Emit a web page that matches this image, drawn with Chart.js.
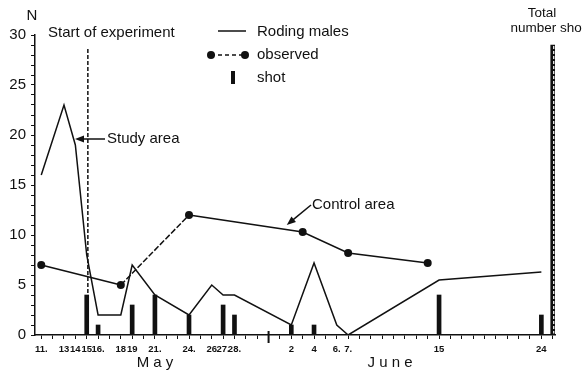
<!DOCTYPE html>
<html>
<head>
<meta charset="utf-8">
<script src="https://cdn.jsdelivr.net/npm/chart.js@4.4.0/dist/chart.umd.min.js"></script>
<style>
  html, body { margin: 0; padding: 0; background: #fff; }
</style>
</head>
<body>
<canvas id="roding" width="582" height="370"></canvas>
<script>
// Days are counted from 11 May (day 0) to 25 June (day 45)
const studyDays = [0, 2, 3, 4, 5, 7, 8, 10, 13, 15, 16, 17, 22, 24, 26, 27, 35, 44];
const studyMales = [16, 23, 19, 8, 2, 2, 7, 4, 2, 5, 4, 4, 1, 7.2, 1, 0, 5.5, 6.3];

const controlDays = [0, 7, 13, 23, 27, 34];
const controlMales = [7, 5, 12, 10.3, 8.2, 7.2];

const shotDays = [4, 5, 8, 10, 13, 16, 17, 22, 24, 35, 44];
const shotCount = [4, 1, 3, 4, 2, 3, 2, 1, 1, 4, 2];

const totalShotDay = [45];
const totalShot = [29];

const startDay = [4.1];
const startLineTop = [28.7];

const dayLabels = {
    0: '11.', 2: '13', 3: '14', 4: '15', 5: '16.', 7: '18', 8: '19', 10: '21.',
    13: '24.', 15: '26', 16: '27.', 17: '28.', 22: '2', 24: '4', 26: '6.', 27: '7.',
    35: '15', 44: '24'
};
const monthEndDay = 20;

const INK = '#111';
const FONT = "'Liberation Sans', Arial, sans-serif";

const pts = (xs, ys) => xs.map((x, i) => ({ x: x, y: ys[i] }));

function arrow(ctx, x0, y0, x1, y1) {
    const a = Math.atan2(y1 - y0, x1 - x0);
    const len = 9, half = 3.5;
    ctx.beginPath();
    ctx.moveTo(x0, y0);
    ctx.lineTo(x1 - Math.cos(a) * len * 0.8, y1 - Math.sin(a) * len * 0.8);
    ctx.stroke();
    ctx.beginPath();
    ctx.moveTo(x1, y1);
    ctx.lineTo(x1 - Math.cos(a) * len + Math.sin(a) * half, y1 - Math.sin(a) * len - Math.cos(a) * half);
    ctx.lineTo(x1 - Math.cos(a) * len - Math.sin(a) * half, y1 - Math.sin(a) * len + Math.cos(a) * half);
    ctx.closePath();
    ctx.fill();
}

// Text, legend, arrows and the extra marks on the axis
const annotations = {
    id: 'annotations',
    afterDraw(chart) {
        const ctx = chart.ctx;
        const xs = chart.scales.x, ys = chart.scales.y;
        ctx.save();
        ctx.fillStyle = INK;
        ctx.strokeStyle = INK;
        ctx.lineWidth = 1.5;
        ctx.textBaseline = 'middle';
        ctx.font = '15px ' + FONT;

        ctx.textAlign = 'center';
        ctx.fillText('N', 32, 16);

        ctx.textAlign = 'left';
        ctx.fillText('Start of experiment', 48, 33);

        // legend
        ctx.beginPath();
        ctx.moveTo(218, 31);
        ctx.lineTo(246, 31);
        ctx.stroke();
        ctx.fillText('Roding males', 257, 32);

        ctx.setLineDash([4, 3]);
        ctx.beginPath();
        ctx.moveTo(211, 55);
        ctx.lineTo(245, 55);
        ctx.stroke();
        ctx.setLineDash([]);
        [211, 245].forEach(cx => {
            ctx.beginPath();
            ctx.arc(cx, 55, 4, 0, Math.PI * 2);
            ctx.fill();
        });
        ctx.fillText('observed', 257, 55);

        ctx.fillRect(231, 71, 4, 13);
        ctx.fillText('shot', 257, 78);

        // area labels with arrows pointing at the lines
        ctx.fillText('Study area', 107, 139);
        arrow(ctx, 105, 139, xs.getPixelForValue(2.97), ys.getPixelForValue(19.6));
        ctx.fillText('Control area', 312, 205);
        arrow(ctx, 311, 205, xs.getPixelForValue(21.6), ys.getPixelForValue(11));

        // months
        ctx.textAlign = 'center';
        ctx.fillText('M a y', 155, 363);
        ctx.fillText('J u n e', 390, 363);

        ctx.font = '13.5px ' + FONT;
        ctx.fillText('Total', 542, 13);
        ctx.fillText('number shot', 548, 28);

        // month boundary tick
        const mx = xs.getPixelForValue(monthEndDay);
        ctx.lineWidth = 2;
        ctx.beginPath();
        ctx.moveTo(mx, ys.bottom - 4);
        ctx.lineTo(mx, ys.bottom + 8);
        ctx.stroke();

        // broken stripe inside the total bar
        const bar = chart.getDatasetMeta(4).data[0];
        if (bar) {
            ctx.strokeStyle = '#fff';
            ctx.lineWidth = 1.2;
            ctx.setLineDash([3, 2]);
            ctx.beginPath();
            ctx.moveTo(bar.x + 1, bar.y + 1);
            ctx.lineTo(bar.x + 1, bar.base - 1);
            ctx.stroke();
        }
        ctx.restore();
    }
};

new Chart(document.getElementById('roding'), {
    data: {
        datasets: [
            {
                type: 'line',
                label: 'Study area',
                data: pts(studyDays, studyMales),
                borderColor: INK,
                borderWidth: 1.5,
                pointRadius: 0,
                tension: 0
            },
            {
                type: 'line',
                label: 'Control area',
                data: pts(controlDays, controlMales),
                borderColor: INK,
                borderWidth: 1.5,
                pointRadius: 4,
                pointBackgroundColor: INK,
                pointBorderWidth: 0,
                tension: 0,
                segment: {
                    borderDash: c => (c.p0DataIndex === 1 ? [6, 2] : undefined)
                }
            },
            {
                type: 'line',
                label: 'Start of experiment',
                data: [{ x: startDay[0], y: 0 }, { x: startDay[0], y: startLineTop[0] }],
                borderColor: INK,
                borderWidth: 1.5,
                borderDash: [4, 2],
                pointRadius: 0
            },
            {
                type: 'bar',
                label: 'shot',
                data: pts(shotDays, shotCount),
                backgroundColor: INK,
                barThickness: 4,
                grouped: false
            },
            {
                type: 'bar',
                label: 'Total number shot',
                data: pts(totalShotDay, totalShot),
                backgroundColor: INK,
                barThickness: 4,
                grouped: false
            }
        ]
    },
    options: {
        responsive: false,
        animation: false,
        devicePixelRatio: 1,
        layout: { padding: { top: 35, right: 27, left: 0, bottom: 0 } },
        plugins: {
            legend: { display: false },
            tooltip: { enabled: false }
        },
        scales: {
            x: {
                type: 'linear',
                min: -0.55,
                max: 45.2,
                offset: false,
                afterBuildTicks: s => {
                    s.ticks = Array.from({ length: 46 }, (_, i) => ({ value: i }));
                },
                afterFit: s => { s.height = 35; },
                grid: {
                    drawOnChartArea: false,
                    tickLength: 4,
                    color: INK,
                    lineWidth: 1,
                    offset: false
                },
                border: { display: true, color: INK, width: 1.5 },
                ticks: {
                    autoSkip: false,
                    maxRotation: 0,
                    padding: 5,
                    color: INK,
                    font: { family: FONT, size: 9.5, weight: 'bold' },
                    callback: v => dayLabels[v] || ''
                }
            },
            y: {
                min: 0,
                max: 30,
                afterBuildTicks: s => {
                    s.ticks = Array.from({ length: 31 }, (_, i) => ({ value: i }));
                },
                afterFit: s => { s.width = 35; },
                grid: {
                    drawOnChartArea: false,
                    tickLength: 4,
                    color: INK,
                    lineWidth: 1
                },
                border: { display: true, color: INK, width: 1.5 },
                ticks: {
                    autoSkip: false,
                    padding: 5,
                    color: INK,
                    font: { family: FONT, size: 15 },
                    callback: v => (v % 5 === 0 ? v : '')
                }
            }
        }
    },
    plugins: [annotations]
});
</script>
</body>
</html>
